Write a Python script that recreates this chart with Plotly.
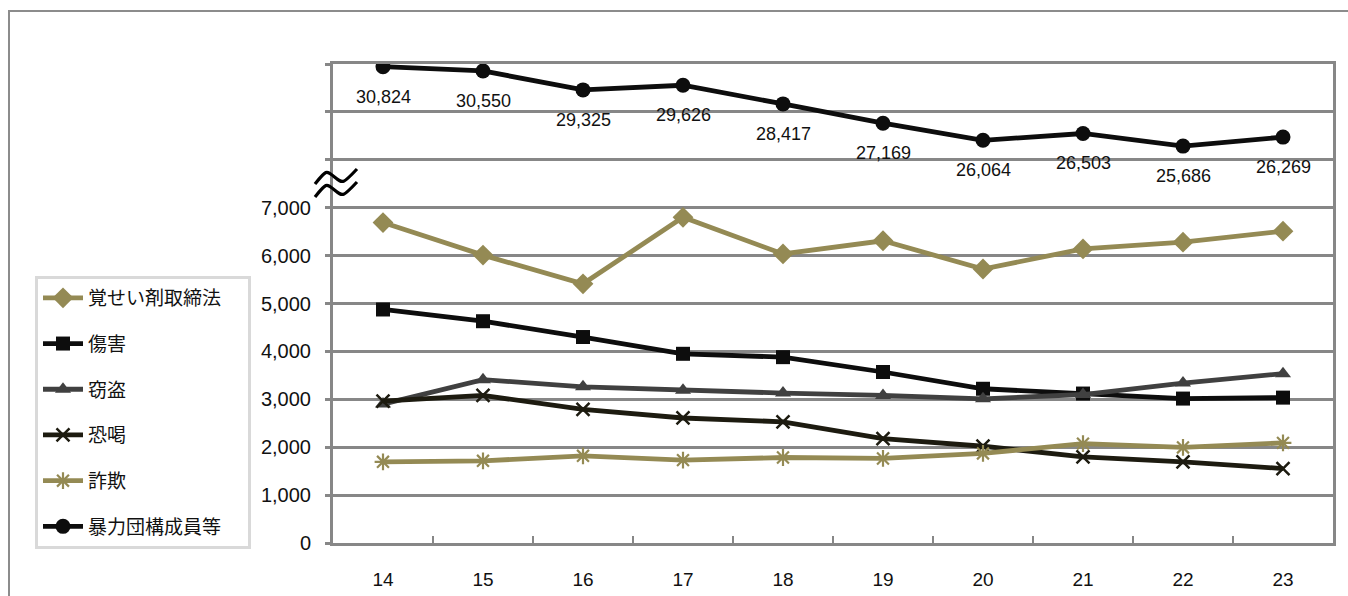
import plotly.graph_objects as go

# ---- data ----
years = ["14", "15", "16", "17", "18", "19", "20", "21", "22", "23"]
stimulants = [6690, 6010, 5410, 6800, 6035, 6310, 5720, 6140, 6280, 6510]   # 覚せい剤取締法
injury = [4875, 4630, 4300, 3950, 3880, 3570, 3220, 3120, 3015, 3035]       # 傷害
theft = [2900, 3410, 3260, 3190, 3130, 3080, 3010, 3100, 3340, 3535]        # 窃盗
extortion = [2960, 3080, 2790, 2610, 2530, 2180, 2020, 1800, 1695, 1555]    # 恐喝
fraud = [1695, 1715, 1820, 1730, 1785, 1765, 1870, 2075, 1995, 2090]        # 詐欺
gang_members = [30824, 30550, 29325, 29626, 28417, 27169, 26064, 26503, 25686, 26269]  # 暴力団構成員等

y_ticks = [0, 1000, 2000, 3000, 4000, 5000, 6000, 7000, 8000, 9000, 10000]
y_labels = ["0", "1,000", "2,000", "3,000", "4,000", "5,000", "6,000", "7,000", "", "", ""]

# ---- styling ----
OLIVE = "#948A54"
BLACK = "#0D0D0D"
DGRAY = "#404040"
DBROWN = "#1D1B10"
GRID = "#878787"
FONT = "Liberation Sans, Noto Sans CJK JP, sans-serif"
JFONT = "Noto Sans CJK JP, sans-serif"
PAD = "\u00a0" * 5

W, H = 1348, 596
ML, MR, MT, MB = 333, 15, 64, 53
PW, PH = W - ML - MR, H - MT - MB


def px(x):
    return (x - ML) / PW


def py(y):
    return (H - MB - y) / PH


fig = go.Figure()

series = [
    ("覚せい剤取締法", stimulants, OLIVE, dict(symbol="diamond", size=16, color=OLIVE), 4.8),
    ("傷害", injury, BLACK, dict(symbol="square", size=14, color=BLACK), 4.8),
    ("窃盗", theft, DGRAY, dict(symbol="triangle-up", size=14, color=DGRAY), 4.8),
    ("恐喝", extortion, DBROWN, dict(symbol="x-thin-open", size=13, color=DBROWN,
                                      line=dict(color=DBROWN, width=2.5)), 4.8),
    ("詐欺", fraud, OLIVE, dict(symbol="asterisk-open", size=14, color=OLIVE,
                                 line=dict(color=OLIVE, width=2.2)), 4.8),
]

for i, (name, vals, col, mk, lw) in enumerate(series):
    fig.add_trace(go.Scatter(
        x=years, y=vals, name=name, mode="lines+markers",
        line=dict(color=col, width=lw), marker=mk,
        legendgroup=f"g{i}", yaxis="y",
    ))

fig.add_trace(go.Scatter(
    x=years, y=gang_members, name="暴力団構成員等" + PAD, mode="lines+markers",
    line=dict(color=BLACK, width=4.8),
    marker=dict(symbol="circle", size=15, color=BLACK),
    legendgroup="g5", yaxis="y2",
))

# data labels (x given as category index)
for idx, v in enumerate(gang_members):
    fig.add_annotation(
        x=idx, y=v, yref="y2", xref="x", text=f"{v:,}", showarrow=False,
        yshift=-30, font=dict(family=FONT, size=18, color="#111111"),
    )

# outer frame
fig.add_shape(type="rect", xref="paper", yref="paper",
              x0=px(9), x1=px(1360), y0=py(620), y1=py(11),
              line=dict(color="#8C8C8C", width=2), layer="below")

# axis-break symbol (two waves)
def wave(dy):
    pts = [(315, 184 + dy), (326, 170 + dy), (343, 184 + dy), (357, 169 + dy)]
    p0, p1, p2, p3 = [(px(a), py(b)) for a, b in pts]
    return (f"M{p0[0]},{p0[1]} C{p1[0]},{p1[1]} {p1[0]},{p1[1]} {(p1[0]+p2[0])/2},{(p1[1]+p2[1])/2} "
            f"S{p2[0]},{p2[1]} {p3[0]},{p3[1]}")

for dy in (0, 13):
    fig.add_shape(type="path", xref="paper", yref="paper", path=wave(dy),
                  line=dict(color="#000000", width=3.2))

fig.update_layout(
    width=W, height=H,
    margin=dict(l=ML, r=MR, t=MT, b=MB, autoexpand=False),
    paper_bgcolor="white", plot_bgcolor="white",
    font=dict(family=FONT, size=18, color="#111111"),
    showlegend=True,
    legend=dict(
        x=px(35), y=py(276), xanchor="left", yanchor="top",
        bordercolor="#D9D9D9", borderwidth=3, bgcolor="white",
        font=dict(family=JFONT, size=19, color="#111111"),
        tracegroupgap=18, itemwidth=40,
    ),
    xaxis=dict(
        type="category", range=[-0.5, 9.5], automargin=False,
        showgrid=False, zeroline=False,
        showline=True, linecolor=GRID, linewidth=3, mirror=True,
        ticks="inside", tickson="boundaries", ticklen=7, tickwidth=2, tickcolor=GRID,
        tickfont=dict(family=FONT, size=19, color="#111111"),
        ticklabelstandoff=17,
    ),
    yaxis=dict(
        range=[0, 10000], tickvals=y_ticks, ticktext=y_labels, automargin=False,
        showgrid=True, gridcolor=GRID, gridwidth=3,
        zeroline=False, showline=True, linecolor=GRID, linewidth=3, mirror=True,
        ticks="outside", ticklen=5, tickwidth=3, tickcolor=GRID,
        tickfont=dict(family=FONT, size=20, color="#111111"),
        ticklabelstandoff=10,
    ),
    yaxis2=dict(
        range=[0, 31000], overlaying="y", showgrid=False, zeroline=False,
        showline=False, showticklabels=False, ticks="", automargin=False,
    ),
)

fig.write_html("out.html")
